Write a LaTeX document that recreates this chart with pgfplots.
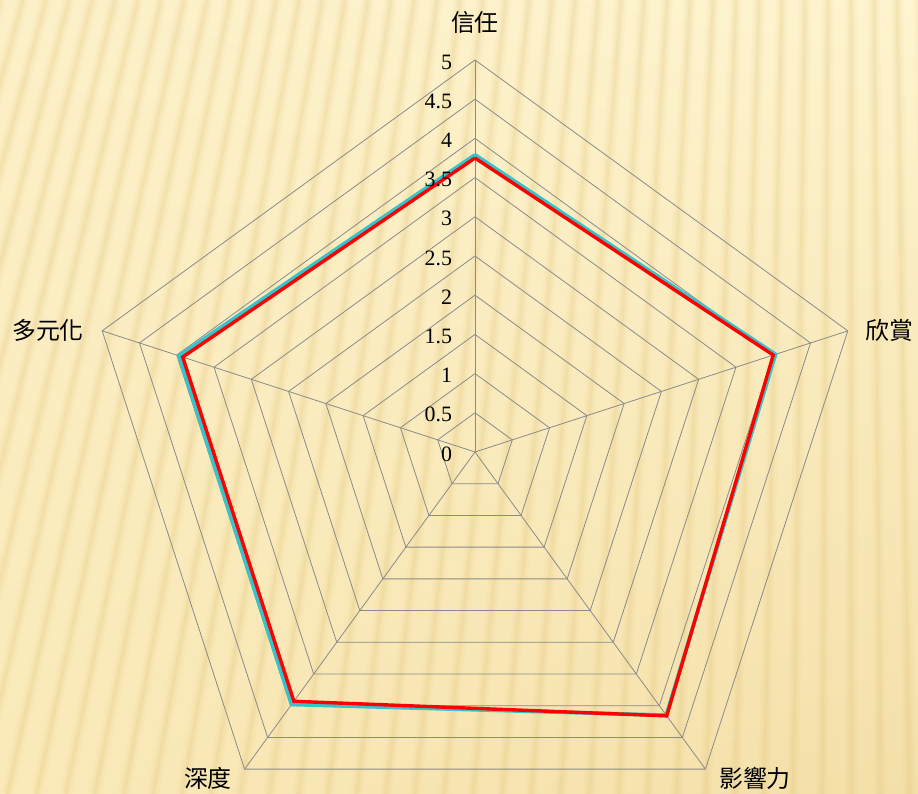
\documentclass[border=0pt]{standalone}
\usepackage{pgfplots}
\pgfplotsset{compat=1.18}
\usetikzlibrary{shadings}
\usepackage{fontspec}
\setmainfont{Liberation Serif}
\newfontfamily\cjk{Noto Sans CJK TC}
\definecolor{bgTL}{HTML}{FCF0C8}
\definecolor{bgTR}{HTML}{FEF4CF}
\definecolor{bgBL}{HTML}{FAEAB9}
\definecolor{bgBR}{HTML}{F4DFA8}
\definecolor{stripe}{HTML}{E3C578}
\definecolor{gridc}{HTML}{8A8A8A}
\definecolor{cyanline}{HTML}{33C4CC}
\begin{document}
\begin{tikzpicture}[x=1bp,y=1bp]
\begin{scope}
\clip (-475,-342) rectangle (443,452);
\shade[upper left=bgTL, upper right=bgTR, lower left=bgBL, lower right=bgBR] (-475,-342) rectangle (443,452);
\foreach \i in {-15,...,45}{
  \pgfmathsetmacro\xt{\i*23-475}
  \pgfmathsetmacro\xb{850+(\i*23-850)*1.265-475}
  \draw[stripe, line width=12, opacity=0.08] (\xt,452) -- (\xb,-342);
  \draw[stripe, line width=7, opacity=0.10] (\xt,452) -- (\xb,-342);
  \draw[stripe, line width=3, opacity=0.14] (\xt,452) -- (\xb,-342);
}
\end{scope}
\begin{axis}[at={(0,0)}, anchor=origin, x=78.4bp, y=78.4bp,
  xmin=-6, xmax=5.6, ymin=-4.3, ymax=5.7, hide axis, clip=false]
\pgfplotsinvokeforeach{0.5,1,1.5,2,2.5,3,3.5,4,4.5,5}{
  \addplot[gridc, line width=0.8bp, data cs=polar] coordinates {(90,#1) (18,#1) (-54,#1) (-126,#1) (162,#1) (90,#1)};
}
\pgfplotsinvokeforeach{90,18,-54,-126,162}{
  \addplot[gridc, line width=0.8bp, data cs=polar] coordinates {(#1,0) (#1,5)};
}
\addplot[cyanline, line width=3.8bp, line join=miter, data cs=polar] coordinates {(90,3.79) (18,4.03) (-54,4.15) (-126,3.98) (162,3.97) (90,3.79)};
\addplot[red, line width=3.4bp, line join=miter, data cs=polar] coordinates {(90,3.75) (18,4.0) (-54,4.16) (-126,3.93) (162,3.92) (90,3.75)};
\pgfplotsinvokeforeach{0,0.5,1,1.5,2,2.5,3,3.5,4,4.5,5}{
  \node[anchor=east, inner sep=0pt, yshift=-2bp, font=\fontsize{22}{25}\selectfont] at (axis cs:-0.29,#1) {#1};
}
\node[font=\cjk\fontsize{24}{28}\selectfont] at (axis cs:0,5.485) {信任};
\node[font=\cjk\fontsize{24}{28}\selectfont] at (axis cs:5.29,1.556) {欣賞};
\node[font=\cjk\fontsize{24}{28}\selectfont] at (axis cs:3.571,-4.158) {影響力};
\node[font=\cjk\fontsize{24}{28}\selectfont] at (axis cs:-3.406,-4.158) {深度};
\node[font=\cjk\fontsize{24}{28}\selectfont] at (axis cs:-5.446,1.556) {多元化};
\end{axis}
\pgfresetboundingbox
\useasboundingbox (-475,-342) rectangle (443,452);
\end{tikzpicture}
\end{document}
